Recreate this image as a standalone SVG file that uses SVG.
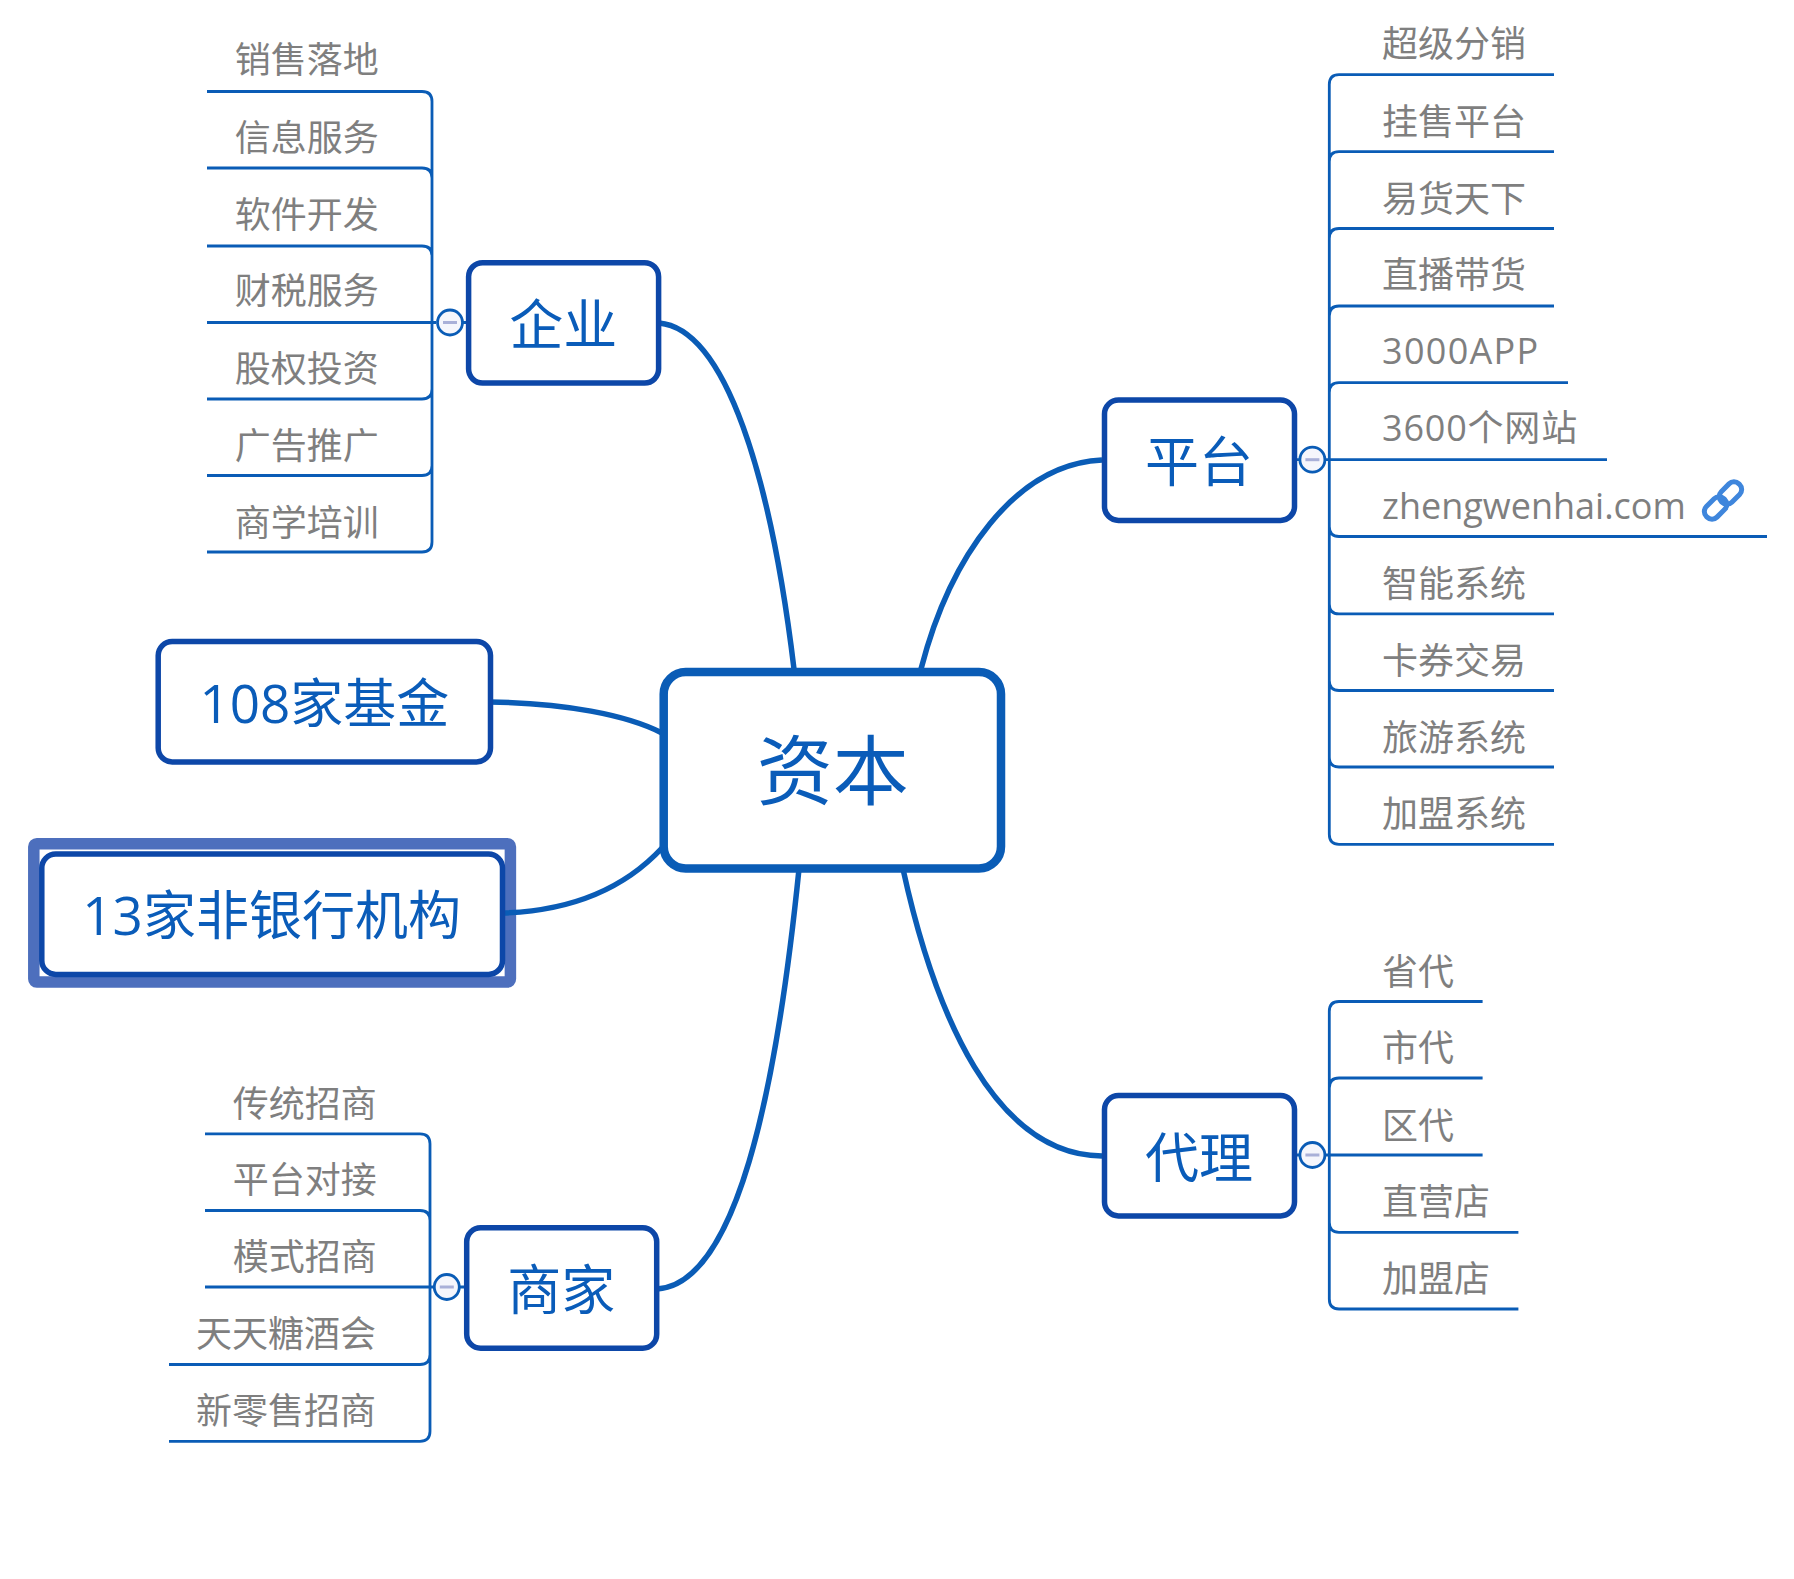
<svg xmlns="http://www.w3.org/2000/svg" width="1794" height="1579" viewBox="0 0 1794 1579">
<defs><style>
text{font-family:"Open Sans","Noto Sans CJK SC",sans-serif}
.main{fill:none;stroke:#0a5cb6;stroke-width:5.5}
.sub{fill:none;stroke:#0a5cb6;stroke-width:2.8}
.box{fill:#fff;stroke:#0d47a8;stroke-width:5.5}
.t{fill:#0a5cb9;text-anchor:middle;font-size:53px}
.s{font-size:54px}
.l{fill:#7f7f7f;font-size:36px}
.c{fill:#f5f6fc;stroke:#0a5cb6;stroke-width:2.8}
.m{stroke:#a9b0d8;stroke-width:3}
</style></defs>
<rect width="1794" height="1579" fill="#fff"/>
<g id="selection"><rect x="33.800" y="843.800" width="476.600" height="138.300" rx="3" fill="#fff" stroke="#4d6fbd" stroke-width="11.500"/></g>
<g id="connectors">
<path class="main" d="M659 323C726 329 771 478 794 669"/>
<path class="main" d="M1102 460C1015 464 950 557 921 669"/>
<path class="main" d="M490 702C565 703 627 715 662 733"/>
<path class="main" d="M503 913C567 911 622 891 662 848"/>
<path class="main" d="M1102 1156C995 1155 935 1015 903 869"/>
<path class="main" d="M657 1289C736 1284 776 1095 799 869"/>
<path class="sub" d="M207 91.500H422Q432 91.500 432 101.500V322.500M207 168H422Q432 168 432 178V322.500M207 246H422Q432 246 432 256V322.500M207 322.500H436M207 399H422Q432 399 432 389V322.500M207 475.500H422Q432 475.500 432 465.500V322.500M207 552H422Q432 552 432 542V322.500"/>
<path class="sub" d="M1554 74.600H1339Q1329.300 74.600 1329.300 84.600V459.700M1554 151.700H1339Q1329.300 151.700 1329.300 161.700V459.700M1554 228.500H1339Q1329.300 228.500 1329.300 238.500V459.700M1554 306H1339Q1329.300 306 1329.300 316V459.700M1568 382.700H1339Q1329.300 382.700 1329.300 392.700V459.700M1607 459.700H1325M1767 536.500H1339Q1329.300 536.500 1329.300 526.500V459.700M1554 613.900H1339Q1329.300 613.900 1329.300 603.900V459.700M1554 690.500H1339Q1329.300 690.500 1329.300 680.500V459.700M1554 767H1339Q1329.300 767 1329.300 757V459.700M1554 844.300H1339Q1329.300 844.300 1329.300 834.300V459.700"/>
<path class="sub" d="M1482.600 1001.500H1339Q1329.300 1001.500 1329.300 1011.500V1155M1482.600 1078H1339Q1329.300 1078 1329.300 1088V1155M1482.600 1155H1325M1518.400 1232.300H1339Q1329.300 1232.300 1329.300 1222.300V1155M1518.400 1309H1339Q1329.300 1309 1329.300 1299V1155"/>
<path class="sub" d="M205 1133.800H420Q430 1133.800 430 1143.800V1287M205 1210.500H420Q430 1210.500 430 1220.500V1287M205 1287H434M169 1364.500H420Q430 1364.500 430 1354.500V1287M169 1441.300H420Q430 1441.300 430 1431.300V1287"/>
<path class="sub" d="M463 322.500H470M1297 459.700H1305M1297 1155H1305M460 1287H467"/>
</g>
<g id="center"><rect x="663.700" y="672" width="337.300" height="196.500" rx="22" fill="#fff" stroke="#0a5cb6" stroke-width="8.500"/><text class="t" x="832.800" y="799" style="font-size:76px">资本</text></g>
<g id="qiye"><rect class="box" x="468.600" y="262.700" width="190" height="120.400" rx="14"/><text class="t s" x="563.200" y="344.500">企业</text><circle class="c" cx="450" cy="322.500" r="12.500"/><path class="m" d="M443 322.500H457"/></g>
<g id="pingtai"><rect class="box" x="1104.500" y="400" width="190" height="120.400" rx="14"/><text class="t s" x="1199" y="482">平台</text><circle class="c" cx="1312.400" cy="459.700" r="12.500"/><path class="m" d="M1305.400 459.700H1319.400"/></g>
<g id="daili"><rect class="box" x="1104.500" y="1095.500" width="190" height="120.400" rx="14"/><text class="t s" x="1199" y="1177.500">代理</text><circle class="c" cx="1312.400" cy="1155" r="12.500"/><path class="m" d="M1305.400 1155H1319.400"/></g>
<g id="shangjia"><rect class="box" x="466.700" y="1227.800" width="190" height="120.400" rx="14"/><text class="t s" x="561.200" y="1310">商家</text><circle class="c" cx="446.800" cy="1287" r="12.500"/><path class="m" d="M439.800 1287H453.800"/></g>
<g id="jijin"><rect class="box" x="158.200" y="641.500" width="332.300" height="120.400" rx="14"/><text class="t" x="324.400" y="723">108家基金</text></g>
<g id="feiyinhang"><rect class="box" x="41.800" y="854" width="460.700" height="120.400" rx="14"/><text class="t" x="271.600" y="935">13家非银行机构</text></g>
<g id="leaves-qiye">
<text class="l" x="234.800" y="73.200">销售落地</text><text class="l" x="234.800" y="150.500">信息服务</text><text class="l" x="234.800" y="227.500">软件开发</text><text class="l" x="234.800" y="304">财税服务</text><text class="l" x="234.800" y="381.500">股权投资</text><text class="l" x="234.800" y="458.500">广告推广</text><text class="l" x="234.800" y="535.500">商学培训</text>
</g>
<g id="leaves-pingtai">
<text class="l" x="1382" y="57">超级分销</text><text class="l" x="1382" y="134.500">挂售平台</text><text class="l" x="1382" y="211.500">易货天下</text><text class="l" x="1382" y="288">直播带货</text><text class="l" x="1382" y="363.500" letter-spacing="1.300">3000APP</text><text class="l" x="1382" y="441" letter-spacing="0.800">3600个网站</text><text class="l" x="1382" y="518.500">zhengwenhai.com</text><text class="l" x="1382" y="596.500">智能系统</text><text class="l" x="1382" y="673.500">卡券交易</text><text class="l" x="1382" y="750.500">旅游系统</text><text class="l" x="1382" y="827">加盟系统</text>
<g id="link-icon" transform="translate(1723 500.500) rotate(-45)" fill="none" stroke="#3f86dc" stroke-width="5"><rect x="-23" y="-7.500" width="25" height="15" rx="7"/><rect x="-2" y="-7.500" width="25" height="15" rx="7"/></g>
</g>
<g id="leaves-daili">
<text class="l" x="1382" y="984.500">省代</text><text class="l" x="1382" y="1061">市代</text><text class="l" x="1382" y="1138.500">区代</text><text class="l" x="1382" y="1215">直营店</text><text class="l" x="1382" y="1292">加盟店</text>
</g>
<g id="leaves-shangjia">
<text class="l" x="232.800" y="1116.500">传统招商</text><text class="l" x="232.800" y="1193">平台对接</text><text class="l" x="232.800" y="1270">模式招商</text><text class="l" x="196" y="1347">天天糖酒会</text><text class="l" x="196" y="1424">新零售招商</text>
</g>
</svg>
